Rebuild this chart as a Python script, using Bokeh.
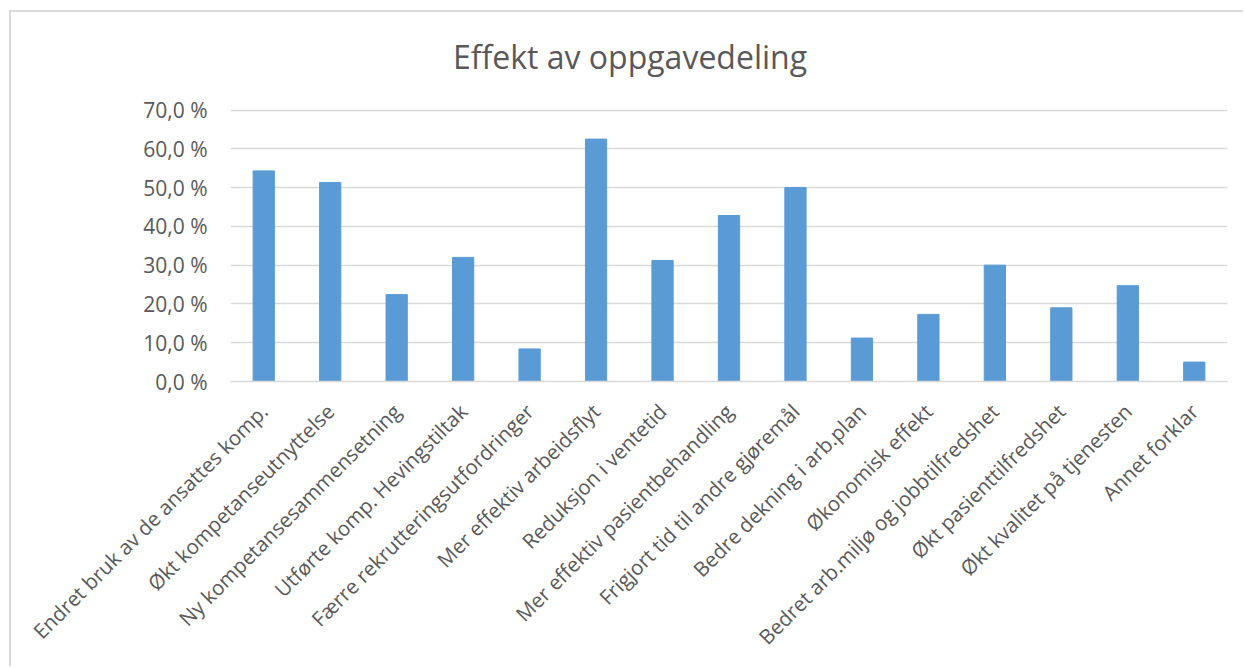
import math
from bokeh.plotting import figure
from bokeh.models import FactorRange, Label, CustomJSTickFormatter, FixedTicker, ColumnDataSource
from bokeh.embed import file_html
from bokeh.resources import INLINE

categories = [
    "Endret bruk av de ansattes komp.",
    "Økt kompetanseutnyttelse",
    "Ny kompetansesammensetning",
    "Utførte komp. Hevingstiltak",
    "Færre rekrutteringsutfordringer",
    "Mer effektiv arbeidsflyt",
    "Reduksjon i ventetid",
    "Mer effektiv pasientbehandling",
    "Frigjort tid til andre gjøremål",
    "Bedre dekning i arb.plan",
    "Økonomisk effekt",
    "Bedret arb.miljø og jobbtilfredshet",
    "Økt pasienttilfredshet",
    "Økt kvalitet på tjenesten",
    "Annet forklar",
]
shares = [54.3, 51.3, 22.4, 32.0, 8.4, 62.5, 31.2, 42.8, 50.0, 11.2, 17.3, 30.0, 19.0, 24.7, 5.0]
y_ticks = [0, 10, 20, 30, 40, 50, 60, 70]
title_text = "Effekt av oppgavedeling"

FONT = "Open Sans"
TEXT_COLOR = "#595959"
GRID_COLOR = "#d9d9d9"
BAR_COLOR = "#5b9bd5"

W, H = 1234, 656
TOP, BOTTOM = 10, 287
# the frame reaches up into the title area; the value scale 0-70 keeps
# its lower 271.5 px, the headroom above holds the title
frame_h = H - TOP - BOTTOM
y_top = frame_h / 271.5 * 70

p = figure(
    width=W, height=H,
    x_range=FactorRange(*categories, range_padding=0),
    y_range=(0, y_top),
    output_backend="svg",
    toolbar_location=None,
    min_border_left=219, min_border_right=18,
    min_border_top=TOP, min_border_bottom=BOTTOM,
)
p.styles = {
    "margin-top": "10px",
    "margin-left": "9px",
    "border-top": "2px solid #d9d9d9",
    "border-left": "2px solid #d9d9d9",
}
p.title = None
p.outline_line_color = None
p.background_fill_color = "white"
p.border_fill_color = "white"

src = ColumnDataSource(dict(cat=categories, val=shares))
p.vbar(x="cat", top="val", width=0.32, source=src,
       fill_color=BAR_COLOR, line_color=BAR_COLOR)

# horizontal gridlines only
p.xgrid.grid_line_color = None
p.ygrid.grid_line_color = GRID_COLOR
p.ygrid.grid_line_width = 1.5

# value axis
yax = p.yaxis[0]
yax.ticker = FixedTicker(ticks=y_ticks)
yax.formatter = CustomJSTickFormatter(code="return tick.toFixed(1).replace('.', ',') + ' %';")
yax.axis_line_color = None
yax.major_tick_line_color = None
yax.minor_tick_line_color = None
yax.major_label_standoff = 17
yax.major_label_text_font = FONT
yax.major_label_text_font_size = "21px"
yax.major_label_text_color = TEXT_COLOR

# category axis
xax = p.xaxis[0]
xax.axis_line_color = GRID_COLOR
xax.axis_line_width = 1.5
xax.major_tick_line_color = None
xax.minor_tick_line_color = None
xax.major_label_orientation = math.pi / 4
xax.major_label_standoff = 20
xax.major_label_text_font = FONT
xax.major_label_text_font_size = "20.5px"
xax.major_label_text_color = TEXT_COLOR

# chart title, placed in the headroom of the frame (baseline 44 px below the top)
title_y = (frame_h - 44 + TOP) / frame_h * y_top
p.add_layout(Label(
    x=399.5 / 997 * len(categories), y=title_y,
    text=title_text, text_align="center", text_baseline="alphabetic",
    text_font=FONT, text_font_size="32px", text_color=TEXT_COLOR,
))

open("out.html", "w").write(file_html(p, INLINE))
